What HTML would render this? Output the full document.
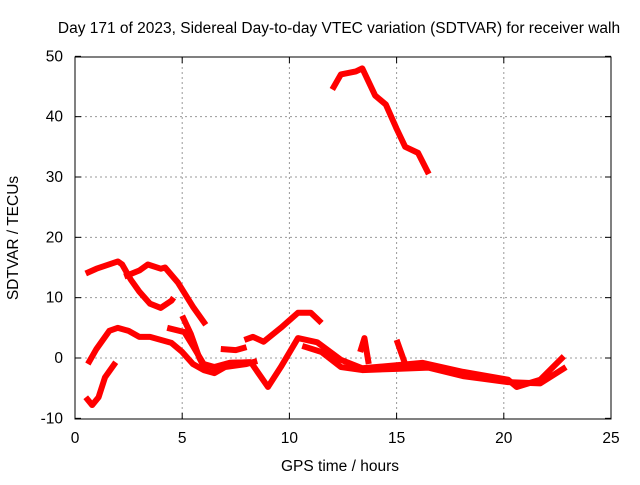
<!DOCTYPE html>
<html><head><meta charset="utf-8"><style>
body{margin:0;background:#fff}
svg text{font-family:"Liberation Sans",sans-serif;font-size:15.5px;fill:#000}
</style></head><body>
<svg id="c" width="640" height="480">
<text x="339" y="33" text-anchor="middle">Day 171 of 2023, Sidereal Day-to-day VTEC variation (SDTVAR) for receiver walh</text>
<text x="340" y="471" text-anchor="middle">GPS time / hours</text>
<text transform="translate(18,238) rotate(-90)" text-anchor="middle">SDTVAR / TECUs</text>
<g id="grid"></g>
<g id="series"></g>
<rect x="75" y="57" width="536" height="362" fill="none" stroke="#000"/>
<g id="ticks"></g>
</svg>
<script>
const xTicks=[0,5,10,15,20,25];
const yTicks=[-10,0,10,20,30,40,50];
const trA1=[[0.5,14],[1,14.8],[2,16],[2.2,15.5],[2.6,13],[3,11],[3.5,9],[4,8.3],[4.5,9.5],[4.6,10]];
const trA2=[[2.3,13.5],[3,14.5],[3.4,15.5],[4,14.8],[4.2,15],[4.8,12.5],[5.5,8.5],[6.1,5.5]];
const trB=[[0.6,-1],[1,1.5],[1.6,4.5],[2,5],[2.5,4.5],[3,3.5],[3.5,3.5],[4,3],[4.5,2.5],[5,1],[5.5,-1],[6,-2],[6.5,-2.5],[7,-1.5],[8,-1],[8.5,-0.5]];
const trB2=[[4.3,5],[5.1,4.3],[5.5,2],[6,-1],[6.5,-1.5],[7.2,-0.8],[8.2,-0.7]];
const trB3=[[5,7],[5.4,4],[5.8,0],[6.1,-2]];
const trC0=[[6.8,1.5],[7.5,1.3],[8,1.8]];
const trC=[[7.9,3],[8.3,3.5],[8.8,2.7],[9.6,5],[10.4,7.5],[11,7.5],[11.5,5.8]];
const trD=[[7.2,-0.8],[8.2,-0.7],[9,-4.8],[9.6,-1.5],[10.4,3.3],[11.3,2.6],[12.4,-0.3],[13.4,-1.7],[15,-1.2],[16.2,-0.8],[18.1,-2.3],[20.2,-3.6],[20.6,-4.8],[21.7,-3.6],[22.8,0.3]];
const trD2=[[10.6,2],[11.5,1],[12.4,-1.5],[13.4,-2],[15,-1.8],[16.5,-1.6],[18.1,-3],[20.2,-4],[21.7,-4.2],[22.9,-1.5]];
const trS1=[[13.3,1],[13.5,3.3],[13.7,-1]];
const trS2=[[15,3],[15.4,-1]];
const trE=[[12,44.5],[12.4,47],[13.1,47.5],[13.4,48],[14,43.5],[14.5,42],[15,38],[15.4,35],[16,34],[16.5,30.5]];
const trF=[[0.5,-6.5],[0.8,-7.8],[1.1,-6.5],[1.4,-3.2],[1.9,-0.7]];
const allSeries=[trA1,trA2,trB,trB2,trB3,trC0,trC,trD,trD2,trS1,trS2,trE,trF];
const X=v=>75+v*536/25, Y=v=>358-v*(362/60);
const NS="http://www.w3.org/2000/svg";
const g=document.getElementById('grid'),t=document.getElementById('ticks'),s=document.getElementById('series');
function mk(tag,at,p){const e=document.createElementNS(NS,tag);for(const k in at)e.setAttribute(k,at[k]);p.appendChild(e);return e;}
xTicks.forEach(v=>{
 if(v>0&&v<25){const l=mk('line',{x1:X(v),x2:X(v),y1:57,y2:419,stroke:'#999','stroke-dasharray':'2,3'},g);
 
 }
 mk('line',{x1:X(v),x2:X(v),y1:419,y2:413,stroke:'#000'},t);
 mk('line',{x1:X(v),x2:X(v),y1:57,y2:63,stroke:'#000'},t);
 const tx=mk('text',{x:X(v),y:443,'text-anchor':'middle'},t);tx.textContent=v;
 
 
});
yTicks.forEach(v=>{
 if(v>-10&&v<50){const l=mk('line',{x1:75,x2:611,y1:Y(v),y2:Y(v),stroke:'#999','stroke-dasharray':'2,3'},g);
 
 }
 mk('line',{x1:75,x2:81,y1:Y(v),y2:Y(v),stroke:'#000'},t);
 mk('line',{x1:611,x2:605,y1:Y(v),y2:Y(v),stroke:'#000'},t);
 const tx=mk('text',{x:63,y:Y(v)+5,'text-anchor':'end'},t);tx.textContent=v;
 
 
});
allSeries.forEach(d=>{
 const p=mk('polyline',{points:d.map(q=>X(q[0])+','+Y(q[1])).join(' '),fill:'none',stroke:'#f00','stroke-width':6,'stroke-linejoin':'round'},s);
 
 
});
</script>
</body></html>
